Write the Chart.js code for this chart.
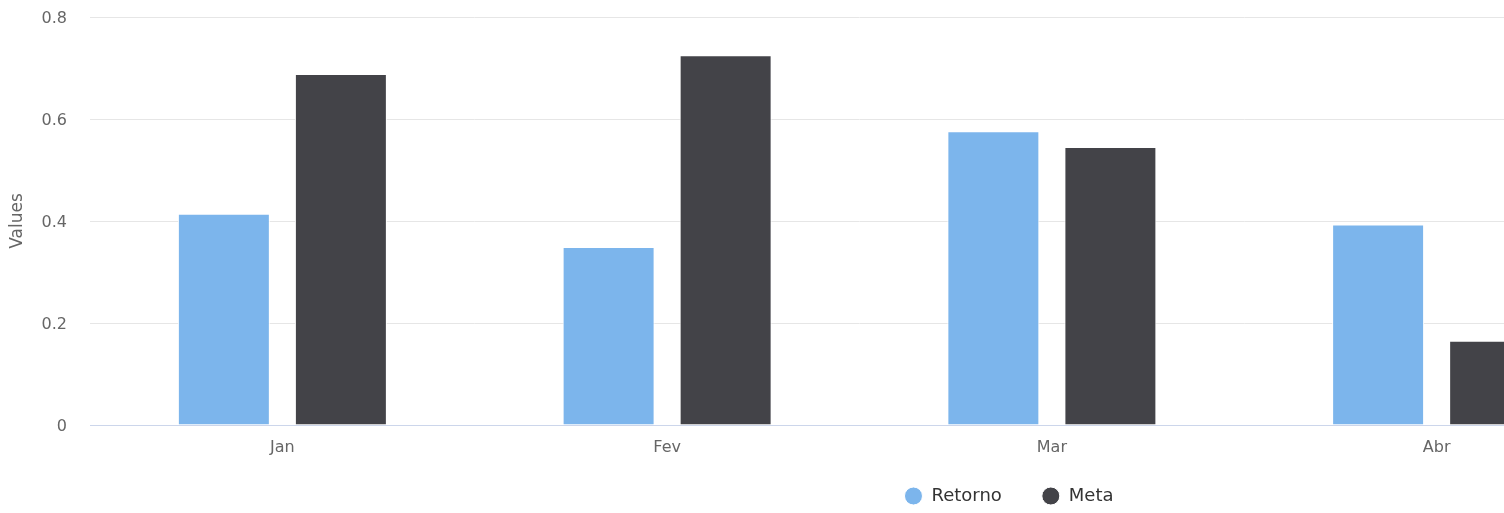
<!DOCTYPE html>
<html lang="pt">
<head>
<meta charset="UTF-8" />
<title>Retorno x Meta</title>
<script src="https://cdn.jsdelivr.net/npm/chart.js"></script>
<style>
  html, body { margin: 0; padding: 0; background: #fff; overflow: hidden; }
  #wrap { width: 1640px; height: 513px; position: relative; }
</style>
</head>
<body>
<div id="wrap"><canvas id="chart"></canvas></div>
<script>
const months = ['Jan', 'Fev', 'Mar', 'Abr'];
const retorno = [0.414, 0.349, 0.576, 0.393];
const meta = [0.688, 0.725, 0.545, 0.165];
const yTicks = [0, 0.2, 0.4, 0.6, 0.8];

const FONT = "'DejaVu Sans', sans-serif";

// the original chart was wider than the window: its legend sits centred on
// the full width, so move it there and keep its reserved height small
const legendShift = {
  id: 'legendShift',
  afterInit(chart) {
    const lg = chart.legend;
    const fit = lg.fit.bind(lg);
    lg.fit = function () { fit(); this.height = 48; };
  },
  afterLayout(chart) {
    const lg = chart.legend;
    lg.left = 0;
    lg.right = 2018;
    lg.top = 447;
    lg.bottom = 513;
  }
};

new Chart(document.getElementById('chart'), {
  type: 'bar',
  data: {
    labels: months,
    datasets: [
      { label: 'Retorno', data: retorno, backgroundColor: '#7cb5ec', borderColor: '#fff', borderWidth: 1 },
      { label: 'Meta', data: meta, backgroundColor: '#434348', borderColor: '#fff', borderWidth: 1 }
    ]
  },
  options: {
    responsive: true,
    maintainAspectRatio: false,
    animation: false,
    categoryPercentage: 0.6083,
    barPercentage: 0.786,
    layout: { padding: { top: 17, right: 11, bottom: 0, left: 0 } },
    plugins: {
      tooltip: { enabled: false },
      legend: {
        position: 'bottom',
        labels: {
          usePointStyle: true,
          pointStyle: 'circle',
          boxWidth: 18,
          boxHeight: 12.73,
          padding: 40,
          color: '#333',
          font: { family: FONT, size: 18 }
        }
      }
    },
    scales: {
      x: {
        grid: { display: false },
        border: { color: '#ccd6eb', width: 1 },
        ticks: { color: '#666', font: { family: FONT, size: 16 }, padding: 5 },
        afterFit(s) { s.height = 40; }
      },
      y: {
        min: 0,
        max: 0.8,
        afterBuildTicks(s) { s.ticks = yTicks.map(v => ({ value: v })); },
        grid: {
          color: ctx => ctx.tick && ctx.tick.value === 0 ? '#ccd6eb' : '#e6e6e6',
          drawTicks: false
        },
        border: { display: false },
        ticks: {
          color: '#666',
          font: { family: FONT, size: 16 },
          padding: 23,
          labelOffset: 2,
          callback: v => String(v)
        },
        title: {
          display: true,
          text: 'Values',
          color: '#666',
          font: { family: FONT, size: 17 },
          padding: { top: 7, bottom: 0 }
        },
        afterFit(s) {
          s.width = 90;
          s.paddingTop = 0;
          s.paddingBottom = 0;
        }
      }
    }
  },
  plugins: [legendShift]
});
</script>
</body>
</html>
